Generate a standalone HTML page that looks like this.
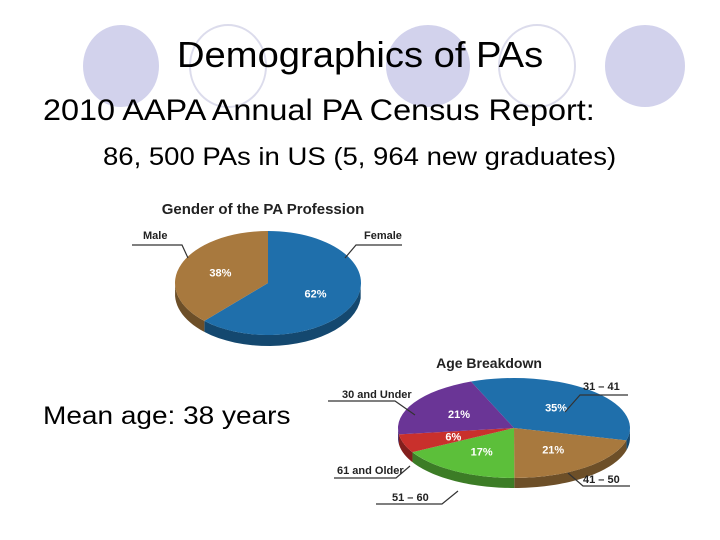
<!DOCTYPE html>
<html><head><meta charset="utf-8"><style>
body{margin:0;width:720px;height:540px;background:#fff;overflow:hidden;position:relative;font-family:"Liberation Sans",sans-serif}
.t{position:absolute;white-space:nowrap;color:#000;transform-origin:0 0}
</style></head><body>
<svg width="720" height="540" style="position:absolute;left:0;top:0">
<g>
<ellipse cx="121" cy="66" rx="38" ry="41" fill="#d2d2ec"/>
<ellipse cx="228" cy="66" rx="38" ry="41" fill="none" stroke="#dcdcec" stroke-width="2"/>
<ellipse cx="428" cy="66" rx="42" ry="41" fill="#d2d2ec"/>
<ellipse cx="537" cy="66" rx="38" ry="41" fill="none" stroke="#dcdcec" stroke-width="2"/>
<ellipse cx="645" cy="66" rx="40" ry="41" fill="#d2d2ec"/>
</g>
<g id="g1"></g><g id="g2"></g>
</svg>
<div class="t" style="left:177px;top:34px;font-size:36px;transform:scaleX(1.06)">Demographics of PAs</div>
<div class="t" style="left:43px;top:94px;font-size:30px;transform:scaleX(1.08)">2010 AAPA Annual PA Census Report:</div>
<div class="t" style="left:103px;top:143px;font-size:25px;transform:scaleX(1.1)">86, 500 PAs in US (5, 964 new graduates)</div>
<div class="t" style="left:43px;top:402px;font-size:25px;transform:scaleX(1.12)">Mean age: 38 years</div>
<script>
const genderCats=["Female","Male"];
const genderVals=[62,38];
const ageCats=["31 – 41","41 – 50","51 – 60","61 and Older","30 and Under"];
const ageVals=[35,21,17,6,21];
const NS="http://www.w3.org/2000/svg";
function mk(p,tag,a,txt){const e=document.createElementNS(NS,tag);for(const k in a)e.setAttribute(k,a[k]);if(txt!==undefined)e.textContent=txt;p.appendChild(e);return e;}
function dark(c){return c.replace(/\w\w/g,h=>Math.round(parseInt(h,16)*0.65).toString(16).padStart(2,'0'));}
function pie(g,cx,cy,rx,ry,depth,vals,cols,start){
  const tot=vals.reduce((a,b)=>a+b,0);let a=start;
  const pt=(ang,dy)=>[cx+rx*Math.cos(ang),cy+ry*Math.sin(ang)+(dy||0)];
  const angs=[];
  vals.forEach(v=>{const b=a+v/tot*2*Math.PI;angs.push([a,b]);a=b;});
  angs.forEach(([s,e],i)=>{
    const n=40;let d="";const pts=[];
    for(let k=0;k<=n;k++){const t=s+(e-s)*k/n;if(Math.sin(t)>=0)pts.push(t);}
    if(pts.length<2)return;
    pts.forEach((t,k)=>{const p=pt(t);d+=(k?"L":"M")+p[0]+","+p[1];});
    for(let k=pts.length-1;k>=0;k--){const p=pt(pts[k],depth);d+="L"+p[0]+","+p[1];}
    const side=mk(g,"path",{d:d+"Z",fill:dark(cols[i])});
    
    
  });
  angs.forEach(([s,e],i)=>{
    const p1=pt(s),p2=pt(e);const large=(e-s)>Math.PI?1:0;
    const sl=mk(g,"path",{d:`M${cx},${cy}L${p1[0]},${p1[1]}A${rx},${ry} 0 ${large} 1 ${p2[0]},${p2[1]}Z`,fill:cols[i]});
    
    
    const m=(s+e)/2;const lp=[cx+rx*0.55*Math.cos(m),cy+ry*0.55*Math.sin(m)+4];
    const tx=mk(g,"text",{x:lp[0],y:lp[1],"text-anchor":"middle","font-size":"11","font-weight":"bold",fill:"#fff","font-family":"Liberation Sans"},vals[i]+"%");
    
    
  });
}
const g1=document.getElementById("g1"),g2=document.getElementById("g2");
pie(g1,268,283,93,52,11,genderVals,["#1f6fab","#a8793e"],-Math.PI/2);
pie(g2,514,428,116,50,10,ageVals,["#1f6fab","#a8793e","#5cbf3a","#c9302c","#6a3596"],-1.95);
function lab(g,x,y,t,anchor,size){const e=mk(g,"text",{x:x,y:y,"text-anchor":anchor||"start","font-size":size||"11","font-weight":"bold",fill:"#222","font-family":"Liberation Sans"},t);return e;}
function line(g,d){const e=mk(g,"path",{d:d,fill:"none",stroke:"#333","stroke-width":"1.2"});}
lab(g1,263,214,"Gender of the PA Profession","middle","15");
lab(g1,143,239,genderCats[1]);line(g1,"M132,245H182L188,258");
lab(g1,364,239,genderCats[0]);line(g1,"M402,245H356L345,258");
lab(g2,489,368,"Age Breakdown","middle","14");
lab(g2,583,390,ageCats[0]);line(g2,"M628,395H580L565,412");
lab(g2,583,483,ageCats[1]);line(g2,"M630,486H583L568,473");
lab(g2,342,398,ageCats[4]);line(g2,"M328,401H395L415,415");
lab(g2,337,474,ageCats[3]);line(g2,"M334,478H396L410,466");
lab(g2,392,501,ageCats[2]);line(g2,"M376,504H442L458,491");
</script>
</body></html>
